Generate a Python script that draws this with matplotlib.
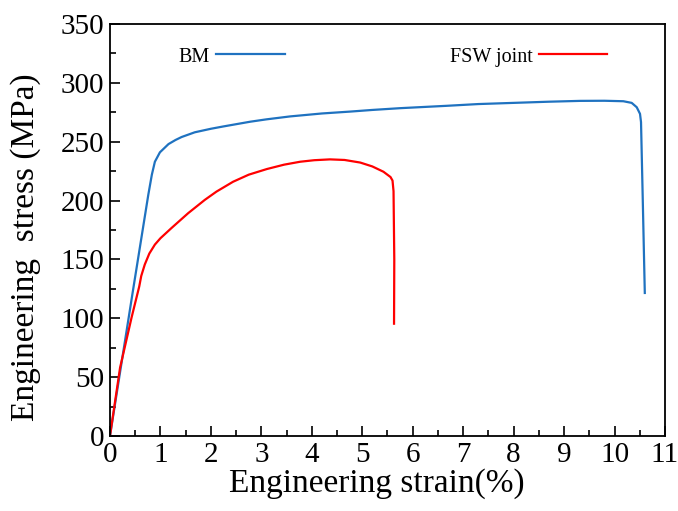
import matplotlib
matplotlib.use("Agg")
import matplotlib.pyplot as plt
from matplotlib.ticker import MultipleLocator

# --- Data (strain %, stress MPa) ---
bm_strain = [0, 0.45, 0.76, 0.83, 0.89, 0.99, 1.16, 1.3, 1.42, 1.68, 2.0, 2.25,
             2.78, 3.1, 3.57, 4.2, 4.76, 5.2, 5.75, 6.67, 7.3, 8.0, 8.7, 9.32, 9.8,
             10.175, 10.34, 10.44, 10.505, 10.525, 10.56, 10.6]
bm_stress = [0, 122, 205, 222, 233, 241, 248, 251.5, 254, 258, 261, 263,
             267, 269, 271.5, 274, 275.6, 277, 278.5, 280.5, 282, 283, 284, 284.7, 284.8,
             284.4, 283, 279.3, 273.7, 266.7, 200, 121.5]

fsw_strain = [0, 0.2, 0.43, 0.58, 0.62, 0.69, 0.78, 0.89, 1.0, 1.22, 1.55, 1.88,
              2.11, 2.44, 2.75, 3.11, 3.45, 3.77, 4.05, 4.36, 4.65, 4.96, 5.2,
              5.42, 5.56, 5.60, 5.62, 5.635, 5.63]
fsw_stress = [0, 58, 101, 127, 136, 145.7, 155, 162.6, 168, 176.7, 189.3, 200.6,
              207.6, 216, 222, 226.8, 230.5, 233, 234.3, 235, 234.5, 232.3, 229,
              224.5, 220, 217, 208, 150, 95.4]

# --- Style ---
plt.rcParams['font.family'] = ['Liberation Serif', 'DejaVu Serif']

fig = plt.figure(figsize=(6.78, 5.11), dpi=100)
ax = fig.add_axes([0.1622, 0.1468, 0.8186, 0.8062])

bm_line, = ax.plot(bm_strain, bm_stress, color='#1f72c0', lw=1.6)
fsw_line, = ax.plot(fsw_strain, fsw_stress, color='#ff0000', lw=1.6)

ax.set_xlim(0, 11)
ax.set_ylim(0, 350)
ax.xaxis.set_major_locator(MultipleLocator(1))
ax.xaxis.set_minor_locator(MultipleLocator(0.5))
ax.yaxis.set_major_locator(MultipleLocator(50))
ax.yaxis.set_minor_locator(MultipleLocator(25))
ax.tick_params(which='both', direction='in', top=False, right=False,
               width=1.2, labelsize=21)
ax.tick_params(which='major', length=7, pad=4)
ax.tick_params(which='minor', length=4)
for s in ax.spines.values():
    s.set_linewidth(1.3)

ax.set_xlabel('Engineering strain(%)', fontsize=24)
ax.set_ylabel('Engineering  stress (MPa)', fontsize=24)
ax.xaxis.set_label_coords(0.48, -0.077)
ax.yaxis.set_label_coords(-0.124, 0.459)

# legend entries: text first, then line
leg1 = ax.legend([bm_line], ['BM'], markerfirst=False, frameon=False,
                 loc='center left', bbox_to_anchor=(0.124, 0.92),
                 borderpad=0, borderaxespad=0, handlelength=3.4,
                 handletextpad=0.3, fontsize=14.5)
ax.add_artist(leg1)
ax.legend([fsw_line], ['FSW joint'], markerfirst=False, frameon=False,
          loc='center left', bbox_to_anchor=(0.6126, 0.92),
          borderpad=0, borderaxespad=0, handlelength=3.4,
          handletextpad=0.3, fontsize=14.5)

fig.savefig('out.png', dpi=100)
